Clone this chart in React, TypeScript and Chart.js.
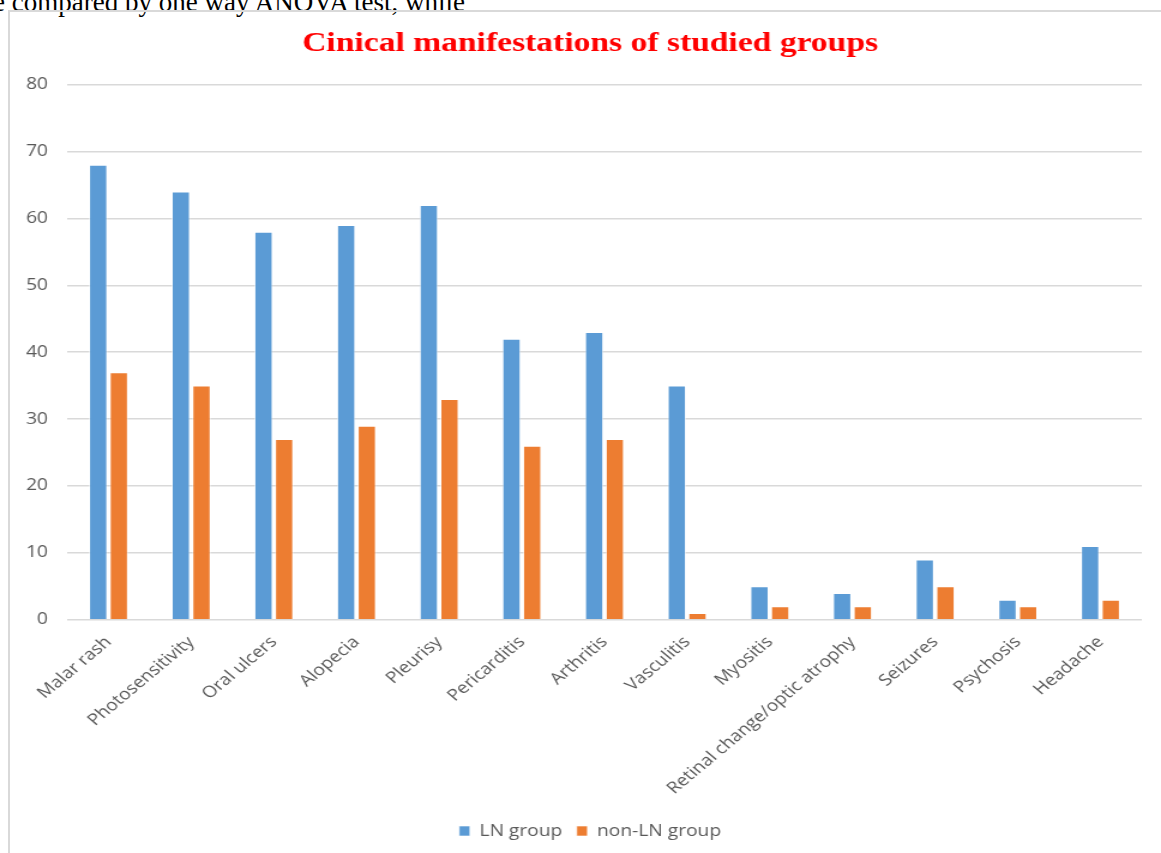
import React, { useEffect, useRef } from "react";
import { Chart, registerables } from "chart.js";

Chart.register(...registerables);

// Clinical manifestations counted in each group
const categories = [
  "Malar rash",
  "Photosensitivity",
  "Oral ulcers",
  "Alopecia",
  "Pleurisy",
  "Pericarditis",
  "Arthritis",
  "Vasculitis",
  "Myositis",
  "Retinal change/optic atrophy",
  "Seizures",
  "Psychosis",
  "Headache",
];
const lnGroup = [68, 64, 58, 59, 62, 42, 43, 35, 5, 4, 9, 3, 11];
const nonLnGroup = [37, 35, 27, 29, 33, 26, 27, 1, 2, 2, 5, 2, 3];

const yMin = 0;
const yMax = 80;
const yStep = 10;

// The figure is drawn on a narrower canvas and widened with CSS,
// which gives the wide, slanted lettering of the printed page.
const PAGE_W = 1161;
const PAGE_H = 853;
const STRETCH = 1.2;
const CANVAS_W = Math.round(PAGE_W / STRETCH);

const sans = "'Open Sans', 'Noto Sans', sans-serif";
const serif = "'Liberation Serif', 'Times New Roman', serif";
const textGrey = "#595959";

export default function App() {
  const canvasRef = useRef<HTMLCanvasElement | null>(null);

  useEffect(() => {
    const canvas = canvasRef.current;
    if (!canvas) return;
    const chart = new Chart(canvas, {
      type: "bar",
      data: {
        labels: categories,
        datasets: [
          {
            label: "LN group",
            data: lnGroup,
            backgroundColor: "#5b9bd5",
            borderColor: "rgba(255,255,255,0.6)",
            borderWidth: 1,
            categoryPercentage: 0.5,
            barPercentage: 0.9,
          },
          {
            label: "non-LN group",
            data: nonLnGroup,
            backgroundColor: "#ed7d31",
            borderColor: "rgba(255,255,255,0.6)",
            borderWidth: 1,
            categoryPercentage: 0.5,
            barPercentage: 0.9,
          },
        ],
      },
      options: {
        responsive: false,
        animation: false,
        devicePixelRatio: 1,
        layout: { padding: { left: 32, right: 16, top: 0, bottom: 4 } },
        plugins: {
          title: {
            display: true,
            text: "Cinical manifestations of studied groups",
            color: "#ff0000",
            font: { family: serif, size: 28, weight: "bold" },
            padding: { top: 27, bottom: 24 },
          },
          legend: {
            position: "bottom",
            labels: {
              boxWidth: 9,
              boxHeight: 10,
              color: textGrey,
              font: { family: sans, size: 16 },
              padding: 12,
            },
          },
          tooltip: { enabled: false },
        },
        scales: {
          x: {
            grid: { display: false },
            border: { display: false },
            ticks: {
              autoSkip: false,
              minRotation: 45,
              maxRotation: 45,
              color: textGrey,
              font: { family: sans, size: 16 },
              padding: 5,
            },
            // leave a little air between the category labels and the legend
            afterFit: (scale: any) => {
              scale.height += 8;
            },
          },
          y: {
            min: yMin,
            max: yMax,
            grid: { color: "#d9d9d9", lineWidth: 1.5, drawTicks: false },
            border: { display: false },
            ticks: {
              stepSize: yStep,
              padding: 16,
              color: textGrey,
              font: { family: sans, size: 16 },
            },
            // narrow value axis; its labels hang out to the left of the box,
            // so they must not be clipped to it
            afterFit: (scale: any) => {
              scale.width = 24;
              scale._computeLabelArea = () => undefined;
            },
          },
        },
      },
    });
    return () => chart.destroy();
  }, []);

  return (
    <div
      style={{
        position: "fixed",
        left: 0,
        top: 0,
        width: PAGE_W,
        height: PAGE_H,
        overflow: "hidden",
        background: "#ffffff",
      }}
    >
      <div
        style={{
          position: "absolute",
          left: -7,
          top: -11,
          whiteSpace: "nowrap",
          fontFamily: serif,
          fontSize: 27,
          lineHeight: "27px",
          color: "#000",
        }}
      >
        e compared by one way ANOVA test, while
      </div>
      <div
        style={{
          position: "absolute",
          left: 8,
          top: 10,
          width: 1200,
          height: 900,
          border: "2px solid #d9d9d9",
          boxSizing: "border-box",
        }}
      />
      <canvas
        ref={canvasRef}
        width={CANVAS_W}
        height={PAGE_H}
        style={{
          position: "absolute",
          left: 0,
          top: 0,
          width: PAGE_W,
          height: PAGE_H,
        }}
      />
    </div>
  );
}
